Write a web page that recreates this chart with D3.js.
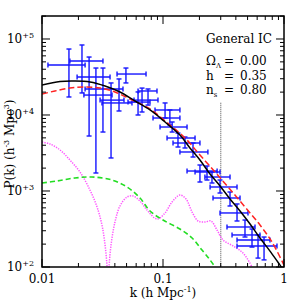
<!DOCTYPE html>
<html>
<head>
<meta charset="utf-8">
<script src="https://cdn.jsdelivr.net/npm/d3@7"></script>
<style>
  body { margin: 0; background: #fff; }
  svg { display: block; }
</style>
</head>
<body>
<div class="chart"></div>
<script>
// frame size
let FRAME_WIDTH = 300;
let FRAME_HEIGHT = 300;
let MARGINS = {left: 42, right: 16, top: 16, bottom: 33};

// observed band powers (k bins and P(k) error ranges)
const obsK   = [0.0167, 0.0214, 0.0245, 0.0279, 0.0319, 0.0372, 0.0433, 0.0494, 0.0622, 0.0671, 0.0752,
                0.104, 0.114, 0.119, 0.133, 0.152, 0.177, 0.202, 0.231, 0.254, 0.296, 0.358, 0.409,
                0.476, 0.544, 0.61, 0.684];
const obsKlo = [0.0112, 0.0170, 0.0195, 0.0222, 0.0227, 0.0302, 0.0313, 0.0417, 0.0514, 0.0576, 0.0622,
                0.0859, 0.0827, 0.0945, 0.108, 0.121, 0.138, 0.158, 0.184, 0.222, 0.245, 0.259, 0.296,
                0.338, 0.372, 0.409, 0.409];
const obsKhi = [0.0227, 0.0319, 0.0365, 0.0379, 0.0467, 0.0476, 0.0554, 0.0724, 0.0781, 0.0909, 0.0892,
                0.138, 0.138, 0.158, 0.184, 0.202, 0.235, 0.280, 0.296, 0.358, 0.409, 0.433, 0.504,
                0.576, 0.633, 0.766, 0.875];
const obsP   = [45500, 51300, 31600, 18300, 22000, 15700, 14400, 34600, 14800, 15700, 20700,
                11640, 9130, 6950, 4980, 4280, 3260, 1832, 1778, 1528, 1129, 809, 514,
                336, 264, 227, 189];
const obsPlo = [17260, 19500, 5290, 1725, 5970, 2720, 11290, 26400, 10000, 10950, 13500,
                9130, 7390, 5970, 3790, 3680, 2800, 1313, 1395, 1274, 941, 635, 403,
                248, 183, 131, 124];
const obsPhi = [73800, 83400, 57900, 41500, 41500, 26400, 29800, 41500, 20100, 22600, 22000,
                14400, 11640, 8090, 5790, 5135, 4280, 2198, 2133, 1778, 1395, 970, 675,
                415, 316, 264, 248];

// model curves
const totalK = [0.01, 0.0141, 0.0187, 0.0249, 0.0332, 0.0441, 0.0587, 0.0781, 0.104, 0.138, 0.167,
                0.202, 0.2446, 0.296, 0.358, 0.433, 0.524, 0.633, 0.766, 0.927, 1.0];
const totalP = [24820, 27600, 28000, 27200, 24070, 20070, 15280, 11640, 8090, 5456, 3680,
                2558, 1674, 1164, 785, 546, 368, 241, 162, 106, 91];

const dashK = [0.01, 0.0128, 0.017, 0.0227, 0.0302, 0.0401, 0.0534, 0.0781, 0.114, 0.152, 0.202,
               0.269, 0.3445, 0.476, 0.633, 0.796, 1.0];
const dashP = [18890, 20700, 22650, 23360, 22650, 20070, 16230, 11990, 7390, 4980, 2977,
               1778, 1129, 616, 357, 213, 106];

const greenK = [0.01, 0.0133, 0.0187, 0.0259, 0.0379, 0.0504, 0.0646, 0.0781, 0.1, 0.138, 0.174,
                0.21, 0.2446, 0.269, 0.285];
const greenP = [1274, 1354, 1483, 1528, 1395, 1129, 809, 546, 415, 316, 241,
                167, 124, 100, 86];

const magK = [0.01, 0.01164, 0.0141, 0.017, 0.0206, 0.0249, 0.0285, 0.0313, 0.0332, 0.0345, 0.0351,
              0.0358, 0.0372, 0.0401, 0.0441, 0.0504, 0.0565, 0.0646, 0.0738, 0.0892, 0.104, 0.1187,
              0.138, 0.155, 0.174, 0.195, 0.2224, 0.249, 0.2795, 0.313, 0.379, 0.458, 0.544, 0.565];
const magP = [4413, 4153, 3464, 2558, 1778, 1031, 616, 357, 195, 100, 58,
              100, 195, 391, 635, 834, 860, 739, 562, 428, 514, 716,
              886, 785, 529, 403, 391, 403, 307, 227, 189, 153, 100, 86];

const kCut = 0.3;

const xTickLabels = [{v: 0.01, t: "0.01"}, {v: 0.1, t: "0.1"}, {v: 1, t: "1"}];
const yTickLabels = [{v: 100, t: "+2"}, {v: 1000, t: "+3"}, {v: 10000, t: "+4"}, {v: 100000, t: "+5"}];

const FONT = "'DejaVu Serif', serif";

let svg = d3.select(".chart")
  .append("svg")
  .attr("width", FRAME_WIDTH)
  .attr("height", FRAME_HEIGHT);

const x = d3.scaleLog().domain([0.01, 1]).range([MARGINS.left, FRAME_WIDTH - MARGINS.right]);
const y = d3.scaleLog().domain([100, 2.007e5]).range([FRAME_HEIGHT - MARGINS.bottom, MARGINS.top]);

const X0 = x.range()[0], X1 = x.range()[1];
const Y0 = y.range()[0], Y1 = y.range()[1];

svg.append("clipPath").attr("id", "plotclip")
  .append("rect")
  .attr("x", X0).attr("y", Y1)
  .attr("width", X1 - X0).attr("height", Y0 - Y1);

let plot = svg.append("g").attr("clip-path", "url(#plotclip)");

function curve(ks, ps) {
  return d3.line()
    .x((d, i) => x(ks[i]))
    .y((d, i) => y(ps[i]))
    .curve(d3.curveCatmullRom)(ks);
}

// k = 0.3 marker
plot.append("line")
  .attr("x1", x(kCut)).attr("x2", x(kCut))
  .attr("y1", y(14500)).attr("y2", Y0)
  .attr("stroke", "#777").attr("stroke-width", 1.3)
  .attr("stroke-dasharray", "1,1");

// magenta dotted
plot.append("path")
  .attr("d", curve(magK, magP))
  .attr("fill", "none").attr("stroke", "#ff55ff")
  .attr("stroke-width", 1.5).attr("stroke-dasharray", "1.3,1.2");

// green dashed
plot.append("path")
  .attr("d", curve(greenK, greenP))
  .attr("fill", "none").attr("stroke", "#22dd22")
  .attr("stroke-width", 1.6).attr("stroke-dasharray", "5,3");

// error bars
const CAP = 2.5;
let bars = plot.append("g").attr("stroke", "#1515ff").attr("stroke-width", 1.4);
obsK.forEach(function(k, i) {
  let cx = x(k), cy = y(obsP[i]);
  let xl = x(obsKlo[i]), xh = x(obsKhi[i]);
  let yl = y(obsPlo[i]), yh = y(obsPhi[i]);
  bars.append("line").attr("x1", xl).attr("x2", xh).attr("y1", cy).attr("y2", cy);
  bars.append("line").attr("x1", xl).attr("x2", xl).attr("y1", cy - CAP).attr("y2", cy + CAP);
  bars.append("line").attr("x1", xh).attr("x2", xh).attr("y1", cy - CAP).attr("y2", cy + CAP);
  bars.append("line").attr("x1", cx).attr("x2", cx).attr("y1", yl).attr("y2", yh);
  bars.append("line").attr("x1", cx - CAP).attr("x2", cx + CAP).attr("y1", yl).attr("y2", yl);
  bars.append("line").attr("x1", cx - CAP).attr("x2", cx + CAP).attr("y1", yh).attr("y2", yh);
});

// red dashed
plot.append("path")
  .attr("d", curve(dashK, dashP))
  .attr("fill", "none").attr("stroke", "#ff2222")
  .attr("stroke-width", 1.5).attr("stroke-dasharray", "6,3");

// black solid
plot.append("path")
  .attr("d", curve(totalK, totalP))
  .attr("fill", "none").attr("stroke", "#000")
  .attr("stroke-width", 1.5);

// frame
svg.append("rect")
  .attr("x", X0).attr("y", Y1)
  .attr("width", X1 - X0).attr("height", Y0 - Y1)
  .attr("fill", "none").attr("stroke", "#000").attr("stroke-width", 1.5);

// ticks, all pointing inwards
let ticks = svg.append("g").attr("stroke", "#000").attr("stroke-width", 1);
function isMajor(v) { return Math.abs(Math.log10(v) - Math.round(Math.log10(v))) < 1e-6; }

x.ticks().forEach(function(v) {
  let len = isMajor(v) ? 8 : 4;
  let px = x(v);
  ticks.append("line").attr("x1", px).attr("x2", px).attr("y1", Y0).attr("y2", Y0 - len);
  ticks.append("line").attr("x1", px).attr("x2", px).attr("y1", Y1).attr("y2", Y1 + len);
});
y.ticks().forEach(function(v) {
  let len = isMajor(v) ? 8 : 4;
  let py = y(v);
  ticks.append("line").attr("x1", X0).attr("x2", X0 + len).attr("y1", py).attr("y2", py);
  ticks.append("line").attr("x1", X1).attr("x2", X1 - len).attr("y1", py).attr("y2", py);
});

// tick labels
svg.selectAll(".xlab")
  .data(xTickLabels)
  .enter().append("text")
  .attr("class", "xlab")
  .attr("x", d => x(d.v)).attr("y", Y0 + 16)
  .attr("text-anchor", "middle")
  .attr("font-family", FONT).attr("font-size", "12px")
  .text(d => d.t);

let ylab = svg.selectAll(".ylab")
  .data(yTickLabels)
  .enter().append("text")
  .attr("class", "ylab")
  .attr("x", 34).attr("y", d => y(d.v) + 4)
  .attr("text-anchor", "end")
  .attr("font-family", FONT).attr("font-size", "12px");
ylab.append("tspan").text("10");
ylab.append("tspan").attr("dy", -5).attr("font-size", "8px").text(d => d.t);

// axis titles
let xt = svg.append("text")
  .attr("x", x(0.1)).attr("y", 297)
  .attr("text-anchor", "middle")
  .attr("font-family", FONT).attr("font-size", "12px");
xt.append("tspan").text("k (h Mpc");
xt.append("tspan").attr("dy", -5).attr("font-size", "8px").text("-1");
xt.append("tspan").attr("dy", 5).text(")");

let yt = svg.append("text")
  .attr("transform", "translate(14,144) rotate(-90)")
  .attr("text-anchor", "middle")
  .attr("font-family", FONT).attr("font-size", "12px");
yt.append("tspan").text("P(k) (h");
yt.append("tspan").attr("dy", -5).attr("font-size", "8px").text("-3");
yt.append("tspan").attr("dy", 5).text(" Mpc");
yt.append("tspan").attr("dy", -5).attr("font-size", "8px").text("3");
yt.append("tspan").attr("dy", 5).text(")");

// annotation block
let note = svg.append("g").attr("font-family", FONT).attr("font-size", "12px");
note.append("text").attr("x", 206).attr("y", 43).text("General IC");

const paramNames = ["\u03A9", "h", "n"];
const paramSubs = ["\u039B", "", "s"];
const paramVals = ["0.00", "0.35", "0.80"];
paramNames.forEach(function(n, i) {
  let yy = 65 + i * 14.5;
  let t = note.append("text").attr("x", 206).attr("y", yy);
  t.append("tspan").text(n);
  if (paramSubs[i]) t.append("tspan").attr("dy", 3).attr("font-size", "7px").text(paramSubs[i]);
  note.append("text").attr("x", 224).attr("y", yy).text("=");
  note.append("text").attr("x", 240).attr("y", yy).text(paramVals[i]);
});
</script>
</body>
</html>
